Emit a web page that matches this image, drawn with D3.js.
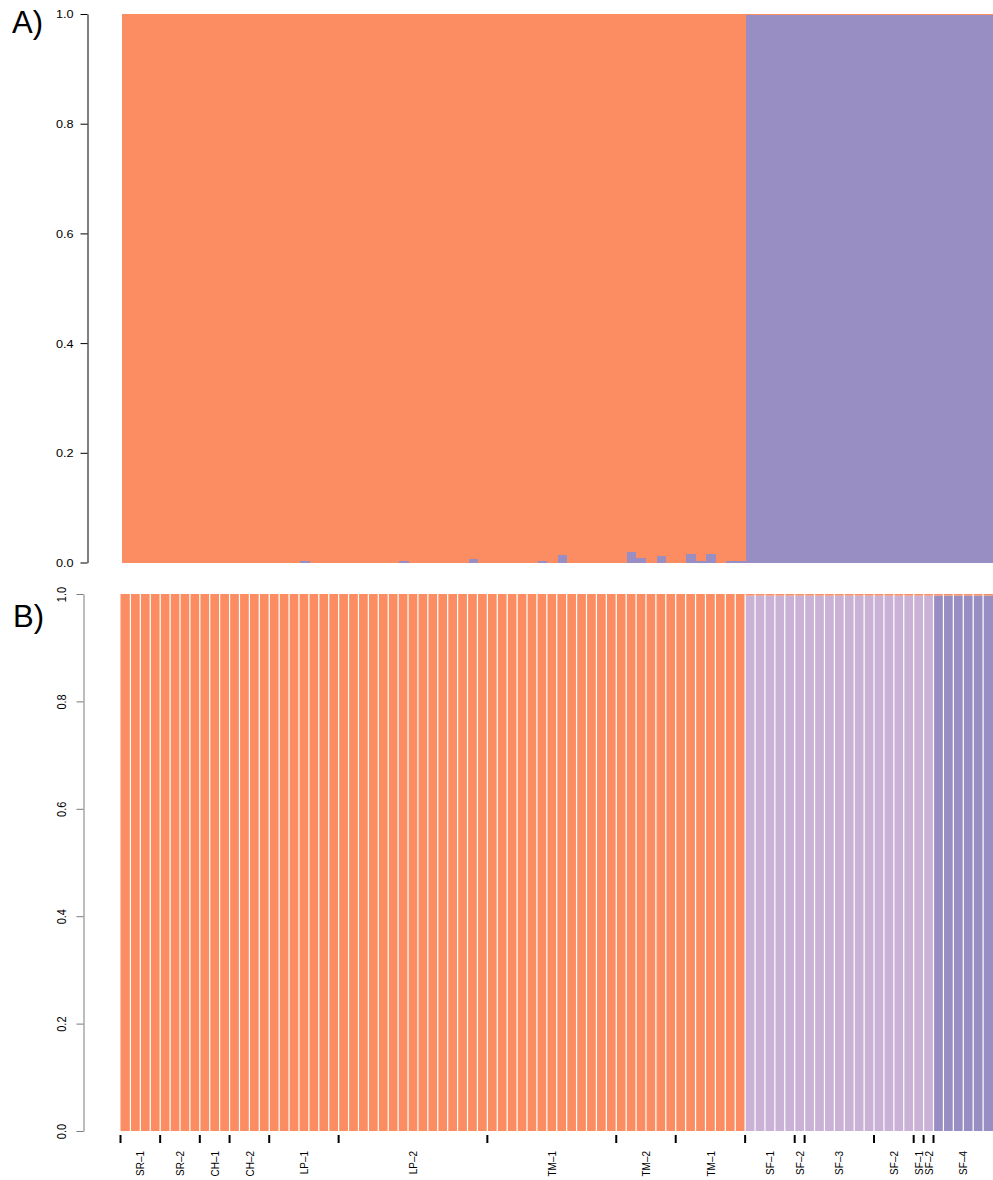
<!DOCTYPE html>
<html>
<head>
<meta charset="utf-8">
<script src="https://cdn.jsdelivr.net/npm/d3@7"></script>
<style>
  html, body { margin: 0; padding: 0; background: #fff; }
  svg { display: block; font-family: "Liberation Sans", Arial, Helvetica, sans-serif; }
</style>
</head>
<body>
<svg id="chart" width="993" height="1180"></svg>
<script>
// Sampling-site groups, in plotting order, with the number of individuals in each
const groupNames = ["SR-1", "SR-2", "CH-1", "CH-2", "LP-1", "LP-2", "TM-1", "TM-2", "TM-1",
                    "SF-1", "SF-2", "SF-3", "SF-2", "SF-1", "SF-2", "SF-4"];
const groupSizes = [4, 4, 3, 4, 7, 15, 13, 6, 7, 5, 1, 7, 4, 1, 1, 6];

// Panel A (K = 2): ancestry proportions per individual
const kA_cluster2 = [
  0, 0, 0, 0, 0, 0, 0, 0, 0, 0,
  0, 0, 0, 0, 0, 0, 0, 0, 0.002, 0,
  0, 0, 0, 0, 0, 0, 0, 0, 0.002, 0,
  0, 0, 0, 0, 0, 0.0055, 0, 0, 0, 0,
  0, 0, 0.002, 0, 0.013, 0, 0, 0, 0, 0,
  0, 0.020, 0.009, 0, 0.011, 0, 0, 0.0146, 0.002, 0.0164,
  0, 0.002, 0.0036, 0.998, 0.998, 0.998, 0.998, 0.998, 0.998, 0.998,
  0.998, 0.998, 0.998, 0.998, 0.998, 0.998, 0.998, 0.998, 0.998, 0.998,
  0.998, 0.998, 0.998, 0.998, 0.998, 0.998, 0.998, 0.998
];
const kA_cluster1 = [
  1, 1, 1, 1, 1, 1, 1, 1, 1, 1,
  1, 1, 1, 1, 1, 1, 1, 1, 0.998, 1,
  1, 1, 1, 1, 1, 1, 1, 1, 0.998, 1,
  1, 1, 1, 1, 1, 0.9945, 1, 1, 1, 1,
  1, 1, 0.998, 1, 0.987, 1, 1, 1, 1, 1,
  1, 0.980, 0.991, 1, 0.989, 1, 1, 0.9854, 0.998, 0.9836,
  1, 0.998, 0.9964, 0.002, 0.002, 0.002, 0.002, 0.002, 0.002, 0.002,
  0.002, 0.002, 0.002, 0.002, 0.002, 0.002, 0.002, 0.002, 0.002, 0.002,
  0.002, 0.002, 0.002, 0.002, 0.002, 0.002, 0.002, 0.002
];

// Panel B (K = 3): ancestry proportions per individual
const kB_cluster1 = [
  1, 1, 1, 1, 1, 1, 1, 1, 1, 1,
  1, 1, 1, 1, 1, 1, 1, 1, 1, 1,
  1, 1, 1, 1, 1, 1, 1, 1, 1, 1,
  1, 1, 1, 1, 1, 1, 1, 1, 1, 1,
  1, 1, 1, 1, 1, 1, 1, 1, 1, 1,
  1, 1, 1, 1, 1, 1, 1, 1, 1, 1,
  1, 1, 1, 0.003, 0.003, 0.003, 0.003, 0.003, 0.003, 0.003,
  0.003, 0.003, 0.003, 0.003, 0.003, 0.003, 0.003, 0.003, 0.003, 0.003,
  0.003, 0.003, 0.003, 0.003, 0.003, 0.003, 0.003, 0.003
];
const kB_cluster2 = [
  0, 0, 0, 0, 0, 0, 0, 0, 0, 0,
  0, 0, 0, 0, 0, 0, 0, 0, 0, 0,
  0, 0, 0, 0, 0, 0, 0, 0, 0, 0,
  0, 0, 0, 0, 0, 0, 0, 0, 0, 0,
  0, 0, 0, 0, 0, 0, 0, 0, 0, 0,
  0, 0, 0, 0, 0, 0, 0, 0, 0, 0,
  0, 0, 0, 0.997, 0.997, 0.997, 0.997, 0.997, 0.997, 0.997,
  0.997, 0.997, 0.997, 0.997, 0.997, 0.997, 0.997, 0.997, 0.997, 0.997,
  0.997, 0.997, 0, 0, 0, 0, 0, 0
];
const kB_cluster3 = [
  0, 0, 0, 0, 0, 0, 0, 0, 0, 0,
  0, 0, 0, 0, 0, 0, 0, 0, 0, 0,
  0, 0, 0, 0, 0, 0, 0, 0, 0, 0,
  0, 0, 0, 0, 0, 0, 0, 0, 0, 0,
  0, 0, 0, 0, 0, 0, 0, 0, 0, 0,
  0, 0, 0, 0, 0, 0, 0, 0, 0, 0,
  0, 0, 0, 0, 0, 0, 0, 0, 0, 0,
  0, 0, 0, 0, 0, 0, 0, 0, 0, 0,
  0, 0, 0.997, 0.997, 0.997, 0.997, 0.997, 0.997
];

const yTicks = [0, 0.2, 0.4, 0.6, 0.8, 1.0];

const ORANGE = "#fc8d62", PURPLE = "#998ec3", LILAC = "#cab2d6";
const STRETCH = 1.15;   // horizontal widening of the small R-style labels

const svg = d3.select("#chart");
const N = kA_cluster1.length;
const idx = d3.range(N);

// ---------- Panel A ----------
const xA = d3.scaleBand().domain(idx).range([121.5, 993]).padding(0);
const yA = d3.scaleLinear().domain([0, 1]).range([562.5, 14]);

const rowsA = idx.map(i => ({ i, c2: kA_cluster2[i], c1: kA_cluster1[i] }));
const stackA = d3.stack().keys(["c2", "c1"])(rowsA);
const colA = { c1: ORANGE, c2: PURPLE };

const gA = svg.append("g");
stackA.forEach(layer => {
  gA.append("g").attr("fill", colA[layer.key]).selectAll("rect")
    .data(layer).join("rect")
    .attr("x", d => xA(d.data.i))
    .attr("width", xA.bandwidth() + 0.4)
    .attr("y", d => yA(d[1]))
    .attr("height", d => Math.max(0, yA(d[0]) - yA(d[1])))
    .attr("shape-rendering", "crispEdges");
});

const axA = svg.append("g").attr("transform", "translate(87.5,0)")
  .call(d3.axisLeft(yA).tickValues(yTicks).tickFormat(d3.format(".1f"))
        .tickSize(7).tickSizeOuter(0));
axA.select(".domain").attr("stroke", "#000");
axA.selectAll(".tick line").attr("stroke", "#000");
axA.selectAll(".tick text")
  .attr("x", null).attr("dy", "0.36em")
  .attr("font-size", 11).attr("fill", "#000")
  .attr("font-family", "Liberation Sans, Arial, sans-serif")
  .attr("text-anchor", "end")
  .attr("transform", `translate(-14,0) scale(${STRETCH},1)`);

svg.append("text").attr("x", 12).attr("y", 33)
  .attr("font-size", 31).attr("fill", "#000").text("A)");

// ---------- Panel B ----------
const xB = d3.scaleBand().domain(idx).range([120.5, 993]).padding(0);
const yB = d3.scaleLinear().domain([0, 1]).range([1131, 594]);

const rowsB = idx.map(i => ({ i, c3: kB_cluster3[i], c2: kB_cluster2[i], c1: kB_cluster1[i] }));
const stackB = d3.stack().keys(["c3", "c2", "c1"])(rowsB);
const colB = { c1: ORANGE, c2: LILAC, c3: PURPLE };

const gB = svg.append("g");
stackB.forEach(layer => {
  gB.append("g").attr("fill", colB[layer.key]).selectAll("rect")
    .data(layer.filter(d => d[1] > d[0])).join("rect")
    .attr("x", d => xB(d.data.i))
    .attr("width", xB.bandwidth())
    .attr("y", d => yB(d[1]))
    .attr("height", d => yB(d[0]) - yB(d[1]));
});
// white bar borders between individuals
gB.append("g").selectAll("line")
  .data(idx.slice(1)).join("line")
  .attr("x1", i => xB(i)).attr("x2", i => xB(i))
  .attr("y1", yB(1) - 0.5).attr("y2", yB(0) + 0.5)
  .attr("stroke", "#fff").attr("stroke-width", 1.2);

const axB = svg.append("g").attr("transform", "translate(83.5,0)")
  .call(d3.axisLeft(yB).tickValues(yTicks).tickFormat(d3.format(".1f"))
        .tickSize(7).tickSizeOuter(0));
axB.select(".domain").attr("stroke", "#7a7a7a");
axB.selectAll(".tick line").attr("stroke", "#7a7a7a");
axB.selectAll(".tick text")
  .attr("x", null).attr("dy", "0")
  .attr("font-size", 11).attr("fill", "#000")
  .attr("font-family", "Liberation Sans, Arial, sans-serif")
  .attr("text-anchor", "middle")
  .attr("transform", `translate(-17.5,0) scale(${STRETCH},1) rotate(-90)`);

svg.append("text").attr("x", 13).attr("y", 627)
  .attr("font-size", 31).attr("fill", "#000").text("B)");

// group boundaries and labels under panel B
const starts = [];
let acc = 0;
groupSizes.forEach(s => { starts.push(acc); acc += s; });

svg.append("g").selectAll("line")
  .data(starts).join("line")
  .attr("x1", s => xB(s)).attr("x2", s => xB(s))
  .attr("y1", 1135).attr("y2", 1143)
  .attr("stroke", "#000").attr("stroke-width", 2);

svg.append("g").selectAll("text")
  .data(groupNames.map((name, k) => ({ name, s: starts[k], n: groupSizes[k] })))
  .join("text")
  .attr("font-size", 10).attr("fill", "#000")
  .attr("text-anchor", "end")
  .attr("dy", "0.36em")
  .attr("transform", d => {
    const cx = xB(d.s) + d.n * xB.bandwidth() / 2;
    return `translate(${cx},1151) scale(${STRETCH},1) rotate(-90)`;
  })
  .text(d => d.name.replace("-", "\u2013"));
</script>
</body>
</html>
